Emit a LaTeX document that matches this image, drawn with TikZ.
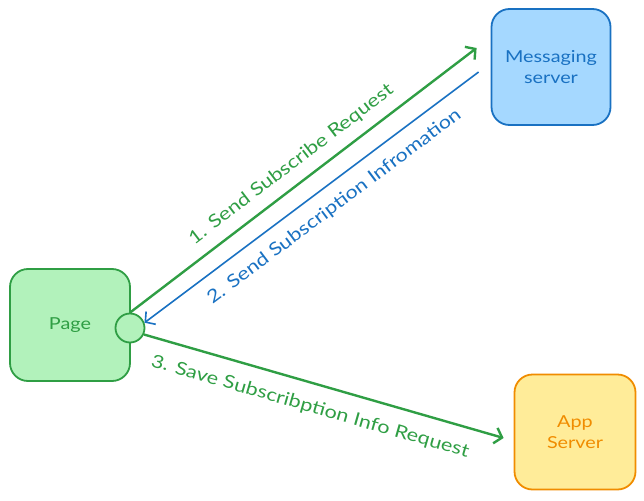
\documentclass[tikz,border=0pt]{standalone}
\usepackage{fontspec}
\setmainfont{Lato}[FakeStretch=1.2]
\usetikzlibrary{arrows.meta}
\definecolor{grn}{HTML}{2F9E44}
\definecolor{grnfill}{HTML}{B2F2BB}
\definecolor{blu}{HTML}{1971C2}
\definecolor{blufill}{HTML}{A5D8FF}
\definecolor{org}{HTML}{F08C00}
\definecolor{orgfill}{HTML}{FFEC99}

\begin{document}
\begin{tikzpicture}[x=1pt,y=-1pt,
    box/.style={draw,line width=1.8pt,rounded corners=18pt,align=center,font=\fontsize{16.5}{21}\selectfont},
    flow/.style={line width=2.4pt,-{Straight Barb[length=7pt,width=16pt]}},
    lbl/.style={font=\fontsize{18}{20}\selectfont,sloped}]

       \useasboundingbox (0,0) rectangle (644,500);

       \node[box,draw=grn,fill=grnfill,text=grn,minimum width=120pt,minimum height=112pt] (page) at (70,325) {Page};
       \node[box,draw=blu,fill=blufill,text=blu,minimum width=119pt,minimum height=116pt] (msg) at (551,67) {Messaging\\server};
       \node[box,draw=org,fill=orgfill,text=org,minimum width=121pt,minimum height=115pt] (app) at (575,432) {App\\Server};
       \node[circle,draw=grn,fill=grnfill,line width=1.8pt,minimum size=29pt,inner sep=0pt] (dot) at (130,328) {};

       \coordinate (msgin) at ([shift={(-14,-19)}]msg.west);
       \coordinate (msgout) at ([shift={(-12,5)}]msg.west);
       \coordinate (appin) at ([shift={(-10,6)}]app.west);

       \draw[flow,grn] (dot.north) -- node[lbl,above=7pt] (req) {1. Send Subscribe Request} (msgin);
       \draw[flow,blu,line width=1.6pt] (msgout) -- node[lbl,below=9pt,pos=0.47] (info) {2. Send Subscription Infromation} (dot.20);
       \draw[flow,grn] (dot.-25) -- node[lbl,below=11pt,pos=0.48] (save) {3. Save Subscribption Info Request} (appin);
     \end{tikzpicture}
\end{document}
